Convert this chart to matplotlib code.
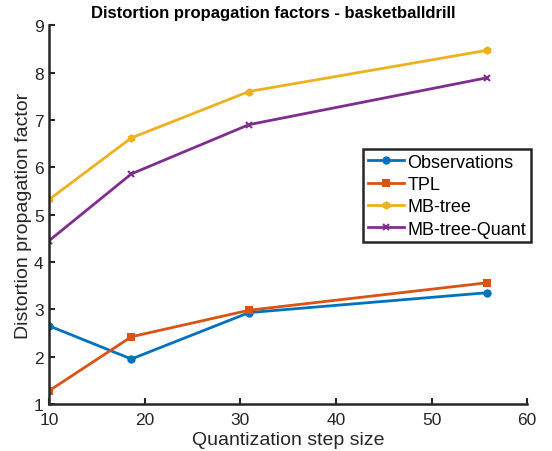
import matplotlib
matplotlib.use("Agg")
import matplotlib.pyplot as plt

plt.rcParams["font.family"] = ["Liberation Sans", "DejaVu Sans"]

# Quantization step sizes and per-method propagation factors
step_size = [10.0, 18.6, 30.9, 55.8]
observations = [2.65, 1.95, 2.93, 3.35]
tpl = [1.28, 2.42, 2.98, 3.56]
mb_tree = [5.32, 6.62, 7.60, 8.47]
mb_tree_quant = [4.45, 5.86, 6.90, 7.89]

SERIES = [
    ("Observations", observations, "#0072BD", "o"),
    ("TPL", tpl, "#D95319", "s"),
    ("MB-tree", mb_tree, "#EDB120", "h"),
    ("MB-tree-Quant", mb_tree_quant, "#7E2F8E", "x"),
]

fig = plt.figure(figsize=(5.52, 4.52), dpi=100)
ax = fig.add_axes([0.089, 0.104, 0.866, 0.838])

for label, vals, color, marker in SERIES:
    ax.plot(step_size, vals, color=color, lw=2, marker=marker, ms=4.5,
            mew=1.5, label=label)

ax.set_xlim(10, 60)
ax.set_ylim(1, 9)
ax.set_xticks(range(10, 61, 10))
ax.set_yticks(range(1, 10))
ax.spines["top"].set_visible(False)
ax.spines["right"].set_visible(False)
for s in ("left", "bottom"):
    ax.spines[s].set_linewidth(1.8)
    ax.spines[s].set_color("#262626")
ax.tick_params(direction="in", length=4, width=1.5, labelsize=12.5,
               colors="#262626")
ax.tick_params(axis="x", pad=6)
ax.tick_params(axis="y", pad=4)

ax.set_xlabel("Quantization step size", fontsize=14, color="#262626",
              labelpad=3)
ax.set_ylabel("Distortion propagation factor", fontsize=14, color="#262626",
              labelpad=1)
ax.set_title("Distortion propagation factors - basketballdrill",
             fontsize=12, fontweight="bold", pad=6, x=0.469)

leg = ax.legend(loc="upper left", bbox_to_anchor=(363 / 552, 1 - 150 / 452),
                bbox_transform=fig.transFigure, fontsize=13, fancybox=False,
                framealpha=1, borderpad=0.25, labelspacing=0.3,
                handlelength=2.0, handletextpad=0.2, borderaxespad=0)
leg.get_frame().set_edgecolor("#262626")
leg.get_frame().set_linewidth(1.8)

fig.savefig("out.png", dpi=100)
